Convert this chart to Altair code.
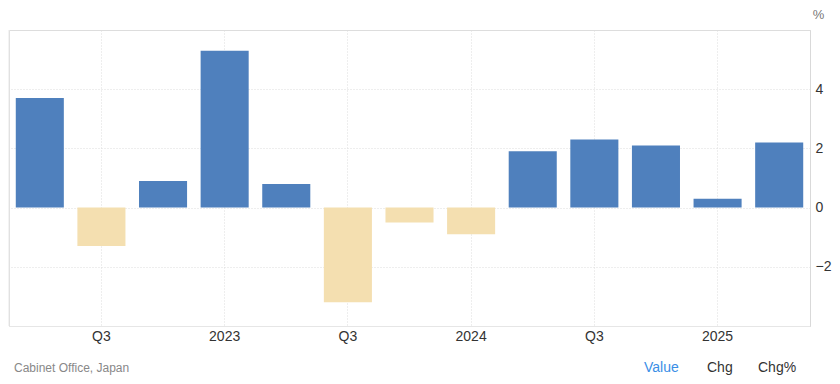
import altair as alt
import pandas as pd

quarters = ["2022 Q2", "2022 Q3", "2022 Q4", "2023 Q1", "2023 Q2", "2023 Q3", "2023 Q4",
            "2024 Q1", "2024 Q2", "2024 Q3", "2024 Q4", "2025 Q1", "2025 Q2"]
values = [3.7, -1.3, 0.9, 5.3, 0.8, -3.2, -0.5, -0.9, 1.9, 2.3, 2.1, 0.3, 2.2]
x_ticks = ["2022 Q3", "2023 Q1", "2023 Q3", "2024 Q1", "2024 Q3", "2025 Q1"]
y_ticks = [-4, -2, 0, 2, 4, 6]
footer_texts = ["Cabinet Office, Japan", "Value", "Chg", "Chg%"]

df = pd.DataFrame({"quarter": quarters, "value": values})
df["sign"] = ["pos" if v >= 0 else "neg" for v in values]

W, H = 801, 296
FONT = "Liberation Sans"

bars = alt.Chart(df).mark_bar().encode(
    x=alt.X("quarter:N", sort=quarters,
            scale=alt.Scale(paddingInner=0.22, paddingOuter=0.11),
            axis=alt.Axis(values=x_ticks, title=None, bandPosition=0.5,
                          labelExpr="indexof(datum.value,'Q1')>=0 ? slice(datum.value,0,4) : slice(datum.value,5)",
                          labelAngle=0, labelFontSize=14, labelColor="#333333", labelFont=FONT,
                          labelPadding=3, ticks=False, domain=True, domainColor="#e6e6e6",
                          grid=True, gridColor="#dddddd", gridDash=[1, 2])),
    y=alt.Y("value:Q", scale=alt.Scale(domain=[-4, 6], nice=False),
            axis=alt.Axis(orient="right", values=y_ticks, title="%", titleAngle=0,
                          titleX=8, titleY=-12, titleAlign="center", titleBaseline="alphabetic",
                          titleFontSize=13, titleFontWeight="normal", titleColor="#777777",
                          titleFont=FONT,
                          labelExpr="datum.value == 6 || datum.value == -4 ? '' : datum.label",
                          labelFontSize=14, labelColor="#333333", labelFont=FONT,
                          labelPadding=5, ticks=False, domain=True, domainColor="#d9d9d9",
                          grid=True, gridColor="#dddddd", gridDash=[1, 2])),
    color=alt.Color("sign:N", scale=alt.Scale(domain=["pos", "neg"], range=["#4f80bd", "#f4dfb0"]),
                    legend=None),
)

left_border = alt.Chart(pd.DataFrame({"a": [0]})).mark_rule(color="#e6e6e6").encode(
    x=alt.value(0), y=alt.value(0), y2=alt.value(H)
)

def footer(txt, x, color, size):
    return alt.Chart(pd.DataFrame({"t": [txt]})).mark_text(
        align="left", baseline="alphabetic", fontSize=size, font=FONT, color=color
    ).encode(x=alt.value(x), y=alt.value(342), text="t:N")

source = footer(footer_texts[0], 5, "#888888", 12)
val = footer(footer_texts[1], 635, "#3a8ee6", 14)
chg = footer(footer_texts[2], 698, "#333333", 14)
chgp = footer(footer_texts[3], 749, "#333333", 14)

chart = alt.layer(bars, left_border, source, val, chg, chgp).properties(
    width=W, height=H,
    autosize=alt.AutoSizeParams(type="none"),
    padding={"left": 1, "top": 22, "right": 22, "bottom": 50},
).configure_view(stroke=None).configure(background="white")

chart.save("out.html", embed_options={"renderer": "svg", "actions": False})
